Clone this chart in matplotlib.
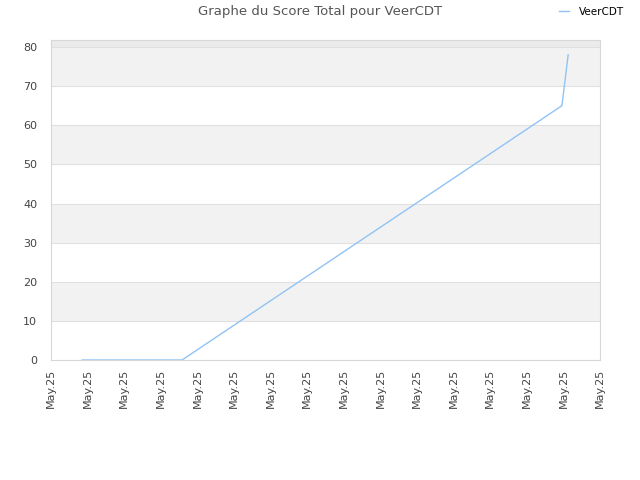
import matplotlib
matplotlib.use("Agg")
import matplotlib.pyplot as plt

# positions along the date axis (tick index units) and total score
x_vals = [0.85, 3.58, 13.96, 14.13]
scores = [0, 0, 65, 78]
tick_labels = ["May.25"] * 16
series_name = "VeerCDT"

fig = plt.figure(figsize=(6.4, 4.8), dpi=100)
ax = fig.add_axes([0.0797, 0.25, 0.8578, 0.6667])

# alternating horizontal bands
for lo in range(10, 80, 20):
    ax.axhspan(lo, lo + 10, color="#f2f2f2", zorder=0, lw=0)
ax.axhspan(80, 82, color="#ebebeb", zorder=0, lw=0)
for yv in range(10, 90, 10):
    ax.axhline(yv, color="#e0e0e0", lw=0.8, zorder=1)

ax.plot(x_vals, scores, color="#90c3f5", lw=1, zorder=3, label=series_name)

ax.set_xlim(0, 15)
ax.set_ylim(0, 81.8)
ax.set_xticks(range(16))
ax.set_xticklabels(tick_labels, rotation=90, fontsize=8, color="#444444")
ax.set_yticks(range(0, 90, 10))
ax.tick_params(axis="y", labelsize=8, colors="#444444", length=0, pad=10)
ax.tick_params(axis="x", length=0, pad=6)
for sp in ax.spines.values():
    sp.set_color("#d8d8d8")

fig.text(0.5, 0.975, "Graphe du Score Total pour VeerCDT", ha="center", va="center",
         fontsize=9.5, color="#555555")
fig.legend(loc="center right", bbox_to_anchor=(0.983, 0.975), frameon=False,
           fontsize=7.5, handlelength=1.0, handletextpad=0.9, borderpad=0)

fig.savefig("out.png", dpi=100)
